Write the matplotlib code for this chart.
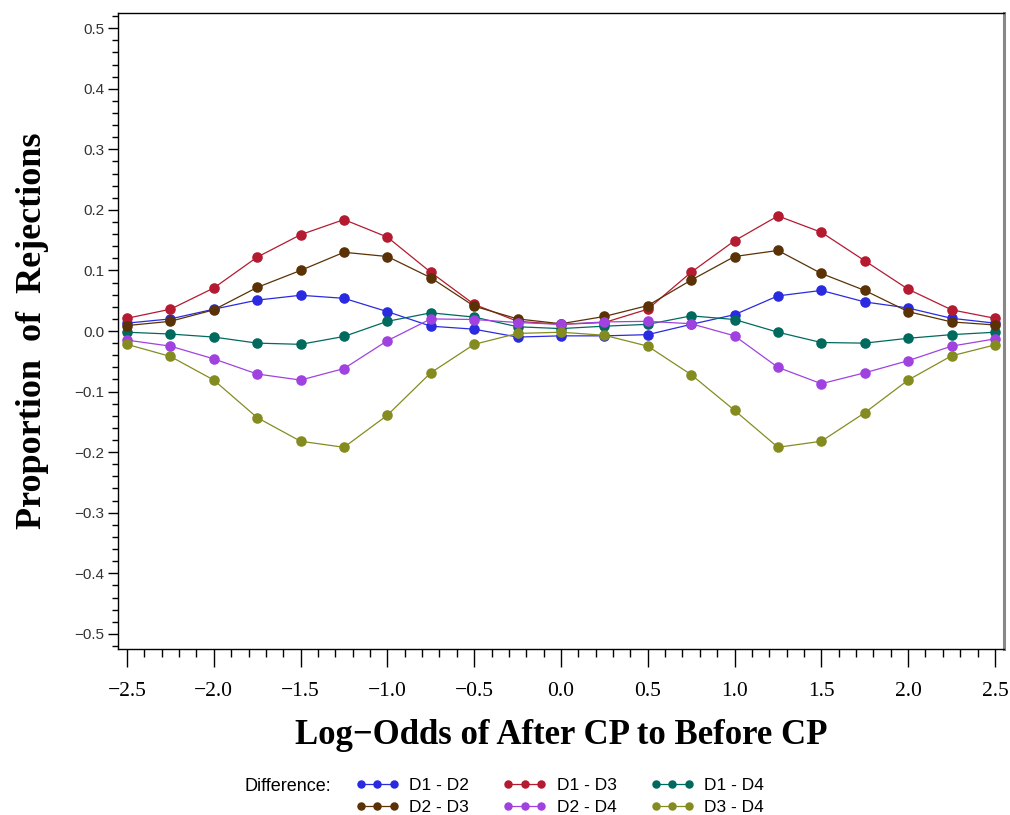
import matplotlib
matplotlib.use("Agg")
import matplotlib.pyplot as plt
from matplotlib.ticker import MultipleLocator, FixedLocator

# log-odds grid of the simulation
log_odds = [-2.5, -2.25, -2.0, -1.75, -1.5, -1.25, -1.0, -0.75, -0.5, -0.25, 0.0,
            0.25, 0.5, 0.75, 1.0, 1.25, 1.5, 1.75, 2.0, 2.25, 2.5]

d1_d2 = [0.013, 0.020, 0.036, 0.051, 0.059, 0.054, 0.032, 0.008, 0.003, -0.010, -0.008,
         -0.008, -0.006, 0.011, 0.027, 0.058, 0.067, 0.048, 0.038, 0.021, 0.013]
d1_d3 = [0.021, 0.036, 0.071, 0.122, 0.159, 0.184, 0.155, 0.097, 0.044, 0.016, 0.011,
         0.014, 0.036, 0.097, 0.149, 0.190, 0.163, 0.116, 0.069, 0.035, 0.021]
d1_d4 = [-0.002, -0.005, -0.010, -0.020, -0.022, -0.009, 0.016, 0.030, 0.023, 0.007, 0.004,
         0.008, 0.011, 0.025, 0.019, -0.002, -0.019, -0.020, -0.012, -0.006, -0.002]
d2_d3 = [0.009, 0.016, 0.035, 0.072, 0.100, 0.130, 0.123, 0.088, 0.041, 0.020, 0.012,
         0.024, 0.042, 0.084, 0.123, 0.133, 0.095, 0.067, 0.032, 0.015, 0.010]
d2_d4 = [-0.015, -0.025, -0.046, -0.071, -0.081, -0.062, -0.016, 0.020, 0.019, 0.014, 0.011,
         0.015, 0.016, 0.012, -0.008, -0.060, -0.087, -0.069, -0.049, -0.025, -0.013]
d3_d4 = [-0.022, -0.042, -0.081, -0.143, -0.182, -0.192, -0.139, -0.069, -0.022, -0.004, -0.002,
         -0.007, -0.025, -0.072, -0.131, -0.192, -0.182, -0.135, -0.081, -0.041, -0.023]

series = [
    ("D1 - D2", d1_d2, "#2a2ae0"),
    ("D1 - D3", d1_d3, "#b41a30"),
    ("D1 - D4", d1_d4, "#006a5e"),
    ("D2 - D3", d2_d3, "#5a3205"),
    ("D2 - D4", d2_d4, "#a042e0"),
    ("D3 - D4", d3_d4, "#848c20"),
]

x_ticks = [-2.5, -2.0, -1.5, -1.0, -0.5, 0.0, 0.5, 1.0, 1.5, 2.0, 2.5]
x_tick_labels = ["\u22122.5", "\u22122.0", "\u22121.5", "\u22121.0", "\u22120.5",
                 "0.0", "0.5", "1.0", "1.5", "2.0", "2.5"]
y_ticks = [0.5, 0.4, 0.3, 0.2, 0.1, 0.0, -0.1, -0.2, -0.3, -0.4, -0.5]
y_tick_labels = ["0.5", "0.4", "0.3", "0.2", "0.1", "0.0",
                 "\u22120.1", "\u22120.2", "\u22120.3", "\u22120.4", "\u22120.5"]

fig = plt.figure(figsize=(10.1, 8.15), dpi=100)
ax = fig.add_axes([0.1168, 0.2037, 0.8772, 0.7803])

lines = {}
for name, vals, color in series:
    (ln,) = ax.plot(log_odds, vals, color=color, lw=0.9, marker="o", ms=7.6,
                    markeredgewidth=0, label=name)
    lines[name] = ln

ax.set_xlim(-2.552, 2.552)
ax.set_ylim(-0.525, 0.525)

ax.xaxis.set_major_locator(FixedLocator(x_ticks))
ax.set_xticklabels(x_tick_labels, family="Liberation Serif", fontsize=15.5)
ax.xaxis.set_minor_locator(MultipleLocator(0.1))
ax.yaxis.set_major_locator(FixedLocator(y_ticks))
ax.set_yticklabels(y_tick_labels, family="Liberation Sans", fontsize=11, color="#333333")
ax.yaxis.set_minor_locator(MultipleLocator(0.02))

ax.tick_params(axis="x", which="major", length=13, width=1, pad=11)
ax.tick_params(axis="x", which="minor", length=6, width=1)
ax.tick_params(axis="y", which="major", length=7, width=1, pad=3)
ax.tick_params(axis="y", which="minor", length=4, width=1)

for side in ["left", "bottom", "top"]:
    ax.spines[side].set_linewidth(1)
    ax.spines[side].set_color("black")
ax.spines["right"].set_color("#888888")
ax.spines["right"].set_linewidth(2.2)

ax.set_xlabel("Log\u2212Odds of After CP to Before CP", family="Liberation Serif",
              fontweight="bold", fontsize=25)
ax.set_ylabel("Proportion  of  Rejections", family="Liberation Serif",
              fontweight="bold", fontsize=26)
ax.xaxis.set_label_coords(0.5, -0.11)
ax.yaxis.set_label_coords(-0.078, 0.5)

# legend laid out column-first, so interleave the two rows
order = ["D1 - D2", "D2 - D3", "D1 - D3", "D2 - D4", "D1 - D4", "D3 - D4"]
fig.legend([lines[k] for k in order], order, loc="upper left",
           bbox_to_anchor=(0.352, 0.045), ncol=3, frameon=False,
           prop={"family": "Liberation Sans", "size": 12.5}, numpoints=3,
           handlelength=2.5, handletextpad=0.6, columnspacing=1.95,
           labelspacing=0.38, borderpad=0, borderaxespad=0, markerscale=0.8)
fig.text(0.328, 0.0355, "Difference:", ha="right", va="center",
         family="Liberation Sans", fontsize=13)

fig.savefig("out.png", dpi=100)
